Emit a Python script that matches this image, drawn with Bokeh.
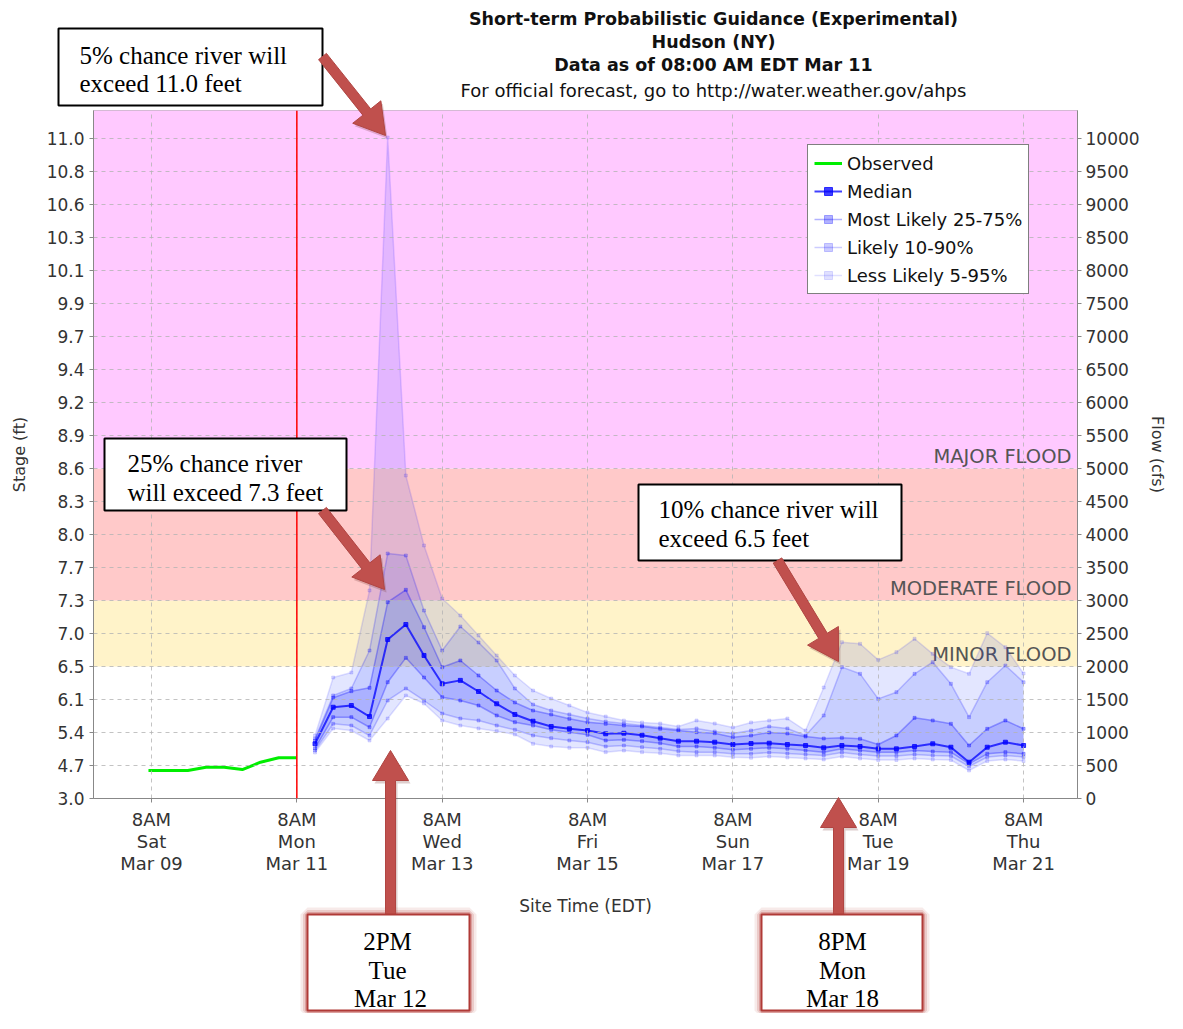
import math
import pandas as pd
from bokeh.plotting import figure
from bokeh.models import (Range1d, LinearAxis, FixedTicker, Span, Legend, LegendItem, GridBox)
from bokeh.embed import file_html
from bokeh.resources import INLINE
from bokeh.core.properties import value

# ---------------- data ----------------
obs_time = ["2019-03-09 07:00", "2019-03-09 14:00", "2019-03-09 20:00",
            "2019-03-10 02:00", "2019-03-10 08:00", "2019-03-10 14:00",
            "2019-03-10 20:00", "2019-03-11 02:00", "2019-03-11 08:00"]
obs_flow = [424, 424, 424, 474, 474, 439, 550, 617, 617]

fc_start, fc_end = "2019-03-11 14:00", "2019-03-21 08:00"
issue_time = "2019-03-11 08:00"

p5 = [697, 1061, 1030, 879, 1212, 1561, 1439, 1182, 1106, 1061,
      1020, 970, 829, 788, 768, 768, 702, 727, 702, 687,
      652, 652, 652, 626, 617, 636, 621, 606, 591, 636,
      606, 583, 583, 606, 591, 583, 424, 568, 591, 568]
p10 = [727, 1132, 1106, 955, 1485, 1667, 1485, 1288, 1212, 1182,
       1106, 1041, 955, 914, 879, 853, 788, 803, 777, 753,
       717, 702, 702, 677, 677, 697, 682, 667, 652, 697,
       667, 644, 644, 667, 652, 644, 485, 629, 652, 629]
p25 = [758, 1232, 1232, 1080, 1762, 2131, 1833, 1535, 1485, 1409,
       1258, 1156, 1106, 1041, 1005, 965, 879, 889, 868, 838,
       788, 788, 768, 738, 753, 768, 753, 727, 702, 753,
       727, 702, 702, 727, 712, 702, 526, 677, 702, 677]
median = [829, 1383, 1409, 1242, 2409, 2636, 2167, 1738, 1790, 1621,
          1435, 1273, 1171, 1091, 1056, 1030, 980, 989, 959, 914,
          868, 868, 853, 818, 833, 838, 818, 803, 768, 803,
          788, 753, 753, 788, 829, 777, 550, 777, 853, 803]
p75 = [879, 1526, 1626, 1677, 2974, 3162, 2595, 1989, 2091, 1864,
       1636, 1455, 1333, 1273, 1208, 1156, 1132, 1106, 1091, 1056,
       1030, 1005, 989, 929, 955, 1000, 985, 939, 909, 920,
       905, 818, 955, 1222, 1182, 1132, 803, 1056, 1182, 1056]
p90 = [909, 1561, 1667, 2242, 3712, 3682, 2848, 2242, 2606, 2364,
       2091, 1667, 1424, 1333, 1273, 1212, 1167, 1136, 1106, 1076,
       1045, 1061, 1015, 985, 1030, 1091, 1061, 955, 1258, 1990,
       1889, 1510, 1611, 1889, 2065, 1738, 1232, 1762, 2015, 1762]
p95 = [955, 1833, 1909, 3152, 10015, 4894, 3833, 3030, 2773, 2470,
       2167, 1864, 1636, 1515, 1409, 1303, 1242, 1182, 1152, 1136,
       1091, 1182, 1136, 1076, 1152, 1182, 1212, 1030, 1682, 2368,
       2344, 2101, 2217, 2420, 2192, 1990, 1889, 2505, 2292, 1894]

flow_ticks = [0, 500, 1000, 1500, 2000, 2500, 3000, 3500, 4000, 4500, 5000,
              5500, 6000, 6500, 7000, 7500, 8000, 8500, 9000, 9500, 10000]
stage_labels = ["3.0", "4.7", "5.4", "6.1", "6.5", "7.0", "7.3", "7.7", "8.0", "8.3",
                "8.6", "8.9", "9.2", "9.4", "9.7", "9.9", "10.1", "10.3", "10.6",
                "10.8", "11.0"]
x_tick_times = ["2019-03-09 08:00", "2019-03-11 08:00", "2019-03-13 08:00",
                "2019-03-15 08:00", "2019-03-17 08:00", "2019-03-19 08:00",
                "2019-03-21 08:00"]
x_tick_labels = ["8AM\nSat\nMar 09", "8AM\nMon\nMar 11", "8AM\nWed\nMar 13",
                 "8AM\nFri\nMar 15", "8AM\nSun\nMar 17", "8AM\nTue\nMar 19",
                 "8AM\nThu\nMar 21"]

minor_flow, moderate_flow, major_flow = 2000, 3000, 5000
zone_names = ["MINOR FLOOD", "MODERATE FLOOD", "MAJOR FLOOD"]

titles = ["Short-term Probabilistic Guidance (Experimental)", "Hudson (NY)",
          "Data as of 08:00 AM EDT Mar 11",
          "For official forecast, go to http://water.weather.gov/ahps"]

# ---------------- helpers ----------------
base = pd.Timestamp("2019-03-09 00:00")


def hours(ts):
    return list((pd.to_datetime(pd.Series(ts)) - base) / pd.Timedelta(hours=1))


obs_h = hours(obs_time)
fc_h = hours(pd.date_range(fc_start, fc_end, freq="6h").strftime("%Y-%m-%d %H:%M"))
issue_h = hours([issue_time])[0]
xt = hours(x_tick_times)

PXH = 3.028  # pixels per hour in the reference layout


def X(rx):
    return 8 + (rx - 151) / PXH


def Y(ry):
    return (798 - ry) / 0.066


FONT = "DejaVu Sans"
SERIF = "Liberation Serif"
W, H = 1167, 1013

p = figure(frame_width=984, frame_height=688, output_backend="svg", toolbar_location=None,
           x_range=Range1d(X(93), X(1077)), y_range=Range1d(0, Y(110)),
           min_border_left=93, min_border_right=90, min_border_top=110,
           min_border_bottom=215)
p.frame_align = False
p.background_fill_color = "white"
p.border_fill_color = "white"
p.outline_line_color = "#aaaaaa"

# flood zones
xl, xr = X(0), X(1200)
p.quad(left=xl, right=xr, bottom=minor_flow, top=moderate_flow, fill_color="#FFF3C9", line_color=None)
p.quad(left=xl, right=xr, bottom=moderate_flow, top=major_flow, fill_color="#FFC9C9", line_color=None)
p.quad(left=xl, right=xr, bottom=major_flow, top=20000, fill_color="#FFC9FF", line_color=None)

# grid
p.xgrid.ticker = FixedTicker(ticks=xt)
p.ygrid.ticker = FixedTicker(ticks=flow_ticks)
for g in (p.xgrid, p.ygrid):
    g.grid_line_color = "#b4b4b4"
    g.grid_line_dash = "4 4"
    g.grid_line_alpha = 0.8
    g.level = "glyph"

# flood labels (under the bands)
p.text(x=[X(1071)] * 3, y=[minor_flow + 180, moderate_flow + 180, major_flow + 180],
       text=zone_names, text_align="right", text_baseline="middle",
       text_font=value(FONT), text_font_size="19.5px", text_color="#555555")

BLUE = "#0000FF"
BAND = "#1a33ff"
p.varea(x=fc_h, y1=p5, y2=p95, fill_color=BAND, fill_alpha=0.12)
p.varea(x=fc_h, y1=p10, y2=p90, fill_color=BAND, fill_alpha=0.13)
p.varea(x=fc_h, y1=p25, y2=p75, fill_color=BLUE, fill_alpha=0.14)

line_r = {}
for name, arr, a, w, s in [("p5", p5, 0.12, 1.5, 3), ("p95", p95, 0.12, 1.5, 3),
                           ("p10", p10, 0.2, 1.5, 3), ("p90", p90, 0.2, 1.5, 3),
                           ("p25", p25, 0.3, 1.5, 3), ("p75", p75, 0.3, 1.5, 3),
                           ("med", median, 0.75, 2, 4)]:
    l = p.line(fc_h, arr, line_color=BLUE, line_alpha=a, line_width=w)
    m = p.scatter(fc_h, arr, marker="square", size=s, fill_color=BLUE, fill_alpha=a,
                  line_color=BLUE, line_alpha=a)
    line_r[name] = (l, m)

obs_r = p.line(obs_h, obs_flow, line_color="#00EE00", line_width=3)

p.add_layout(Span(location=issue_h, dimension="height", line_color="red", line_width=1.5))

# axes
p.yaxis.ticker = FixedTicker(ticks=flow_ticks)
p.yaxis.major_label_overrides = {t: s for t, s in zip(flow_ticks, stage_labels)}
p.yaxis.axis_label = "Stage (ft)"
right = LinearAxis(ticker=FixedTicker(ticks=flow_ticks), axis_label="Flow (cfs)")
p.add_layout(right, "right")
p.xaxis.ticker = FixedTicker(ticks=xt)
p.xaxis.major_label_overrides = {t: s for t, s in zip(xt, x_tick_labels)}
p.xaxis.axis_label = "Site Time (EDT)"
for ax in (p.yaxis[0], right, p.xaxis[0]):
    ax.axis_line_color = "#888888"
    ax.major_tick_line_color = "#888888"
    ax.major_tick_out = 4
    ax.major_tick_in = 0
    ax.minor_tick_line_color = None
    ax.major_label_text_font = FONT
    ax.major_label_text_font_size = "17px"
    ax.major_label_text_color = "#333333"
    ax.major_label_standoff = 5
    ax.axis_label_text_font = FONT
    ax.axis_label_text_font_size = "16px"
    ax.axis_label_text_font_style = "normal"
    ax.axis_label_text_color = "#333333"
p.xaxis.major_label_text_font_size = "18px"
p.xaxis.major_label_text_line_height = 1.07
p.xaxis.axis_label_text_font_size = "17px"
p.xaxis.major_label_standoff = 6
p.xaxis.axis_label_standoff = 19
p.yaxis.axis_label_standoff = 15
right.major_label_standoff = 4
right.axis_label_standoff = 5

legend = Legend(items=[
    LegendItem(label="Observed", renderers=[obs_r]),
    LegendItem(label="Median", renderers=list(line_r["med"])),
    LegendItem(label="Most Likely 25-75%", renderers=list(line_r["p75"])),
    LegendItem(label="Likely 10-90%", renderers=list(line_r["p90"])),
    LegendItem(label="Less Likely 5-95%", renderers=list(line_r["p95"])),
], location=(714, 504))
legend.border_line_color = "black"
legend.border_line_width = 1.5
legend.background_fill_alpha = 1
legend.padding = 6
legend.spacing = 4
legend.margin = 0
legend.label_height = 24
legend.glyph_height = 20
legend.glyph_width = 28
legend.label_standoff = 5
legend.label_text_font = FONT
legend.label_text_font_size = "18px"
legend.label_text_color = "#111111"
p.add_layout(legend)

# ---------------- overlay (annotations in page pixel coordinates) ----------------
ov = figure(width=W, height=H, output_backend="svg", toolbar_location=None,
            x_range=Range1d(0, W), y_range=Range1d(H, 0), min_border=0,
            x_axis_location=None, y_axis_location=None)
ov.frame_align = False
ov.min_border_left = ov.min_border_right = ov.min_border_top = ov.min_border_bottom = 0
ov.outline_line_color = None
ov.background_fill_alpha = 0
ov.border_fill_alpha = 0
ov.grid.visible = False

# titles
ov.text(x=[713] * 3, y=[18, 41, 64], text=titles[:3], text_align="center", text_baseline="middle",
        text_font=value(FONT), text_font_size="17.5px", text_font_style="bold", text_color="#111111")
ov.text(x=[713], y=[90], text=titles[3:], text_align="center", text_baseline="middle",
        text_font=value(FONT), text_font_size="18px", text_color="#111111")


def rect(x0, y0, x1, y1):
    return [x0, x1, x1, x0], [y0, y0, y1, y1]


def add_box(x0, y0, x1, y1, glow=False):
    xs, ys = rect(x0, y0, x1, y1)
    if glow:
        for w, a in [(14, 0.12), (9, 0.2), (5, 0.35)]:
            ov.patch(xs, ys, fill_alpha=0, line_color="#C0504D", line_width=w, line_alpha=a)
        ov.patch(xs, ys, fill_color="white", line_color="#B03A37", line_width=2)
    else:
        ov.patch(xs, ys, fill_color="white", line_color="black", line_width=2)


def add_text(lines, xs, ys, size="25px", align="left"):
    ov.text(x=xs, y=ys, text=lines, text_align=align, text_baseline="middle",
            text_font=value(SERIF), text_font_size=size, text_color="black")


def add_arrow(x0, y0, x1, y1, sw=10, hw=36, hl=30):
    dx, dy = x1 - x0, y1 - y0
    L = math.hypot(dx, dy)
    ux, uy = dx / L, dy / L
    nx, ny = -uy, ux
    bx, by = x1 - ux * hl, y1 - uy * hl
    pts = [(x0 + nx * sw / 2, y0 + ny * sw / 2), (bx + nx * sw / 2, by + ny * sw / 2),
           (bx + nx * hw / 2, by + ny * hw / 2), (x1, y1),
           (bx - nx * hw / 2, by - ny * hw / 2), (bx - nx * sw / 2, by - ny * sw / 2),
           (x0 - nx * sw / 2, y0 - ny * sw / 2)]
    ov.patch([a + 2 for a, _ in pts], [b + 3 for _, b in pts],
             fill_color="#7a3a38", fill_alpha=0.25, line_color=None)
    ov.patch([a for a, _ in pts], [b for _, b in pts],
             fill_color="#C0504D", line_color="#B04542", line_width=1)


add_box(58, 28, 322, 105)
add_text(["5% chance river will", "exceed 11.0 feet"], [79, 79], [55, 83])
add_box(104, 438, 346, 510)
add_text(["25% chance river", "will exceed 7.3 feet"], [127, 127], [463, 492])
add_box(638, 484, 901, 560)
add_text(["10% chance river will", "exceed 6.5 feet"], [658, 658], [509, 538])

add_arrow(322, 56, 385, 135)
add_arrow(322, 510, 384, 589)
add_arrow(777, 560, 838, 661)
add_arrow(390, 914, 390, 750)
add_arrow(838, 914, 838, 797)

add_box(307, 914, 469, 1010, glow=True)
add_text(["2PM", "Tue", "Mar 12"], [387, 387, 390], [941, 970, 998], "25px", "center")
add_box(761, 914, 922, 1010, glow=True)
add_text(["8PM", "Mon", "Mar 18"], [842, 842, 842], [941, 970, 998], "25px", "center")

layout = GridBox(children=[(p, 0, 0), (ov, 0, 0)])
open("out.html", "w").write(file_html(layout, INLINE))
